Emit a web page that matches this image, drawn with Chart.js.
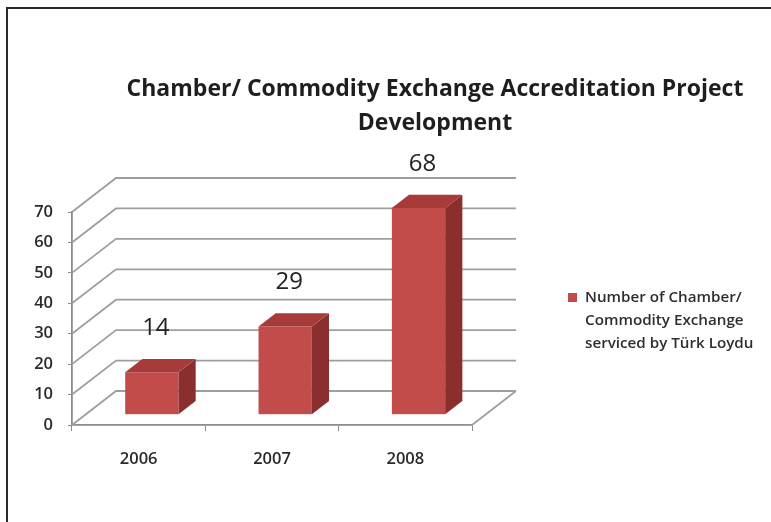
<!DOCTYPE html>
<html>
<head>
<meta charset="utf-8">
<title>Chamber/ Commodity Exchange Accreditation Project Development</title>
<script src="https://cdn.jsdelivr.net/npm/chart.js@4.4.1/dist/chart.umd.min.js"></script>
<style>
  html, body { margin: 0; padding: 0; background: #fff; }
  #wrap { position: relative; width: 771px; height: 522px; overflow: hidden; }
  #frame { position: absolute; left: 6px; top: 7px; right: -4px; bottom: -4px;
           border-top: 2px solid #2b2b2b; border-left: 2px solid #2b2b2b; pointer-events: none; }
  canvas { position: absolute; left: 0; top: 0; }
</style>
</head>
<body>
<div id="wrap">
  <canvas id="accreditChart" width="771" height="522"></canvas>
  <div id="frame"></div>
</div>
<script>
document.addEventListener('DOMContentLoaded', function() {
    // Data
    const years = ['2006', '2007', '2008'];
    const servicedCount = [14, 29, 68];
    const seriesLabel = ['Number of Chamber/', 'Commodity Exchange', 'serviced by Türk Loydu'];
    const titleLines = ['Chamber/ Commodity Exchange Accreditation Project', 'Development'];
    const yTicks = [0, 10, 20, 30, 40, 50, 60, 70];

    // Depth of the 3D box and where the bars sit inside it
    const DEPTH_X = 44, DEPTH_Y = -34;
    const BAR_FRONT = 0.3, BAR_DEPTH = 0.39;

    const gridColor = '#9e9e9e';
    const faceColor = '#c24c4a';
    const sideColor = '#8a2f2d';
    const topColor = '#a63b39';

    const box3d = {
        id: 'box3d',
        beforeDatasetsDraw(chart) {
            const { ctx, chartArea: a, scales: { y } } = chart;
            ctx.save();
            ctx.strokeStyle = gridColor;
            ctx.lineWidth = 1.8;
            ctx.beginPath();
            yTicks.forEach(v => {
                const py = y.getPixelForValue(v);
                // side wall diagonal + back wall line
                ctx.moveTo(a.left, py);
                ctx.lineTo(a.left + DEPTH_X, py + DEPTH_Y);
                ctx.lineTo(a.right + DEPTH_X, py + DEPTH_Y);
            });
            // floor edge on the right
            const y0 = y.getPixelForValue(0);
            ctx.moveTo(a.right, y0);
            ctx.lineTo(a.right + DEPTH_X, y0 + DEPTH_Y);
            ctx.stroke();
            ctx.restore();

            // shift bars into the box
            ctx.save();
            ctx.translate(DEPTH_X * BAR_FRONT, DEPTH_Y * BAR_FRONT);
        },
        afterDatasetsDraw(chart) {
            const { ctx } = chart;
            const dx = DEPTH_X * BAR_DEPTH, dy = DEPTH_Y * BAR_DEPTH;
            const meta = chart.getDatasetMeta(0);
            meta.data.forEach((bar, i) => {
                const left = bar.x - bar.width / 2, right = bar.x + bar.width / 2;
                // side face
                ctx.fillStyle = sideColor;
                ctx.beginPath();
                ctx.moveTo(right, bar.y);
                ctx.lineTo(right + dx, bar.y + dy);
                ctx.lineTo(right + dx, bar.base + dy);
                ctx.lineTo(right, bar.base);
                ctx.closePath();
                ctx.fill();
                // top face
                ctx.fillStyle = topColor;
                ctx.beginPath();
                ctx.moveTo(left, bar.y);
                ctx.lineTo(left + dx, bar.y + dy);
                ctx.lineTo(right + dx, bar.y + dy);
                ctx.lineTo(right, bar.y);
                ctx.closePath();
                ctx.fill();
                // value label
                ctx.fillStyle = '#222';
                ctx.font = '24px "Open Sans"';
                ctx.textAlign = 'center';
                ctx.textBaseline = 'middle';
                ctx.fillText(String(servicedCount[i]), bar.x + 4, bar.y - 44);
            });
            ctx.restore();
        },
        afterDraw(chart) {
            const { ctx } = chart;
            ctx.save();
            // title
            ctx.fillStyle = '#1e1e1e';
            ctx.font = 'bold 23px "Open Sans"';
            ctx.textAlign = 'center';
            ctx.textBaseline = 'middle';
            titleLines.forEach((t, i) => ctx.fillText(t, 435, 89 + i * 34));
            // legend
            ctx.fillStyle = faceColor;
            ctx.fillRect(568, 293, 9, 9);
            ctx.fillStyle = '#2e2e2e';
            ctx.font = '600 15.2px "Open Sans"';
            ctx.textAlign = 'left';
            seriesLabel.forEach((t, i) => ctx.fillText(t, 585, 298 + i * 23));
            ctx.restore();
        }
    };

    const tickFont = { family: 'Open Sans', size: 16.5, weight: '600' };

    const ctx = document.getElementById('accreditChart').getContext('2d');
    new Chart(ctx, {
        type: 'bar',
        data: {
            labels: years,
            datasets: [{
                label: seriesLabel.join(' '),
                data: servicedCount,
                backgroundColor: faceColor,
                borderWidth: 0,
                categoryPercentage: 1,
                barPercentage: 0.4
            }]
        },
        options: {
            responsive: false,
            animation: false,
            layout: { padding: { left: 0, right: 299, top: 212, bottom: 0 } },
            plugins: {
                legend: { display: false },
                title: { display: false },
                tooltip: { enabled: false }
            },
            scales: {
                x: {
                    afterFit: (scale) => { scale.height = 97; },
                    grid: { offset: true, drawOnChartArea: false, tickLength: 6, color: '#8c8c8c' },
                    border: { color: '#8c8c8c', width: 1.8 },
                    ticks: { color: '#2a2a2a', font: tickFont, padding: 18 }
                },
                y: {
                    min: 0,
                    max: 70,
                    afterFit: (scale) => { scale.width = 72; },
                    grid: { drawOnChartArea: false, tickLength: 4, color: '#8c8c8c' },
                    border: { color: '#8c8c8c', width: 1.8 },
                    ticks: { stepSize: 10, color: '#2a2a2a', font: tickFont, padding: 15 }
                }
            }
        },
        plugins: [box3d]
    });
});
</script>
</body>
</html>
